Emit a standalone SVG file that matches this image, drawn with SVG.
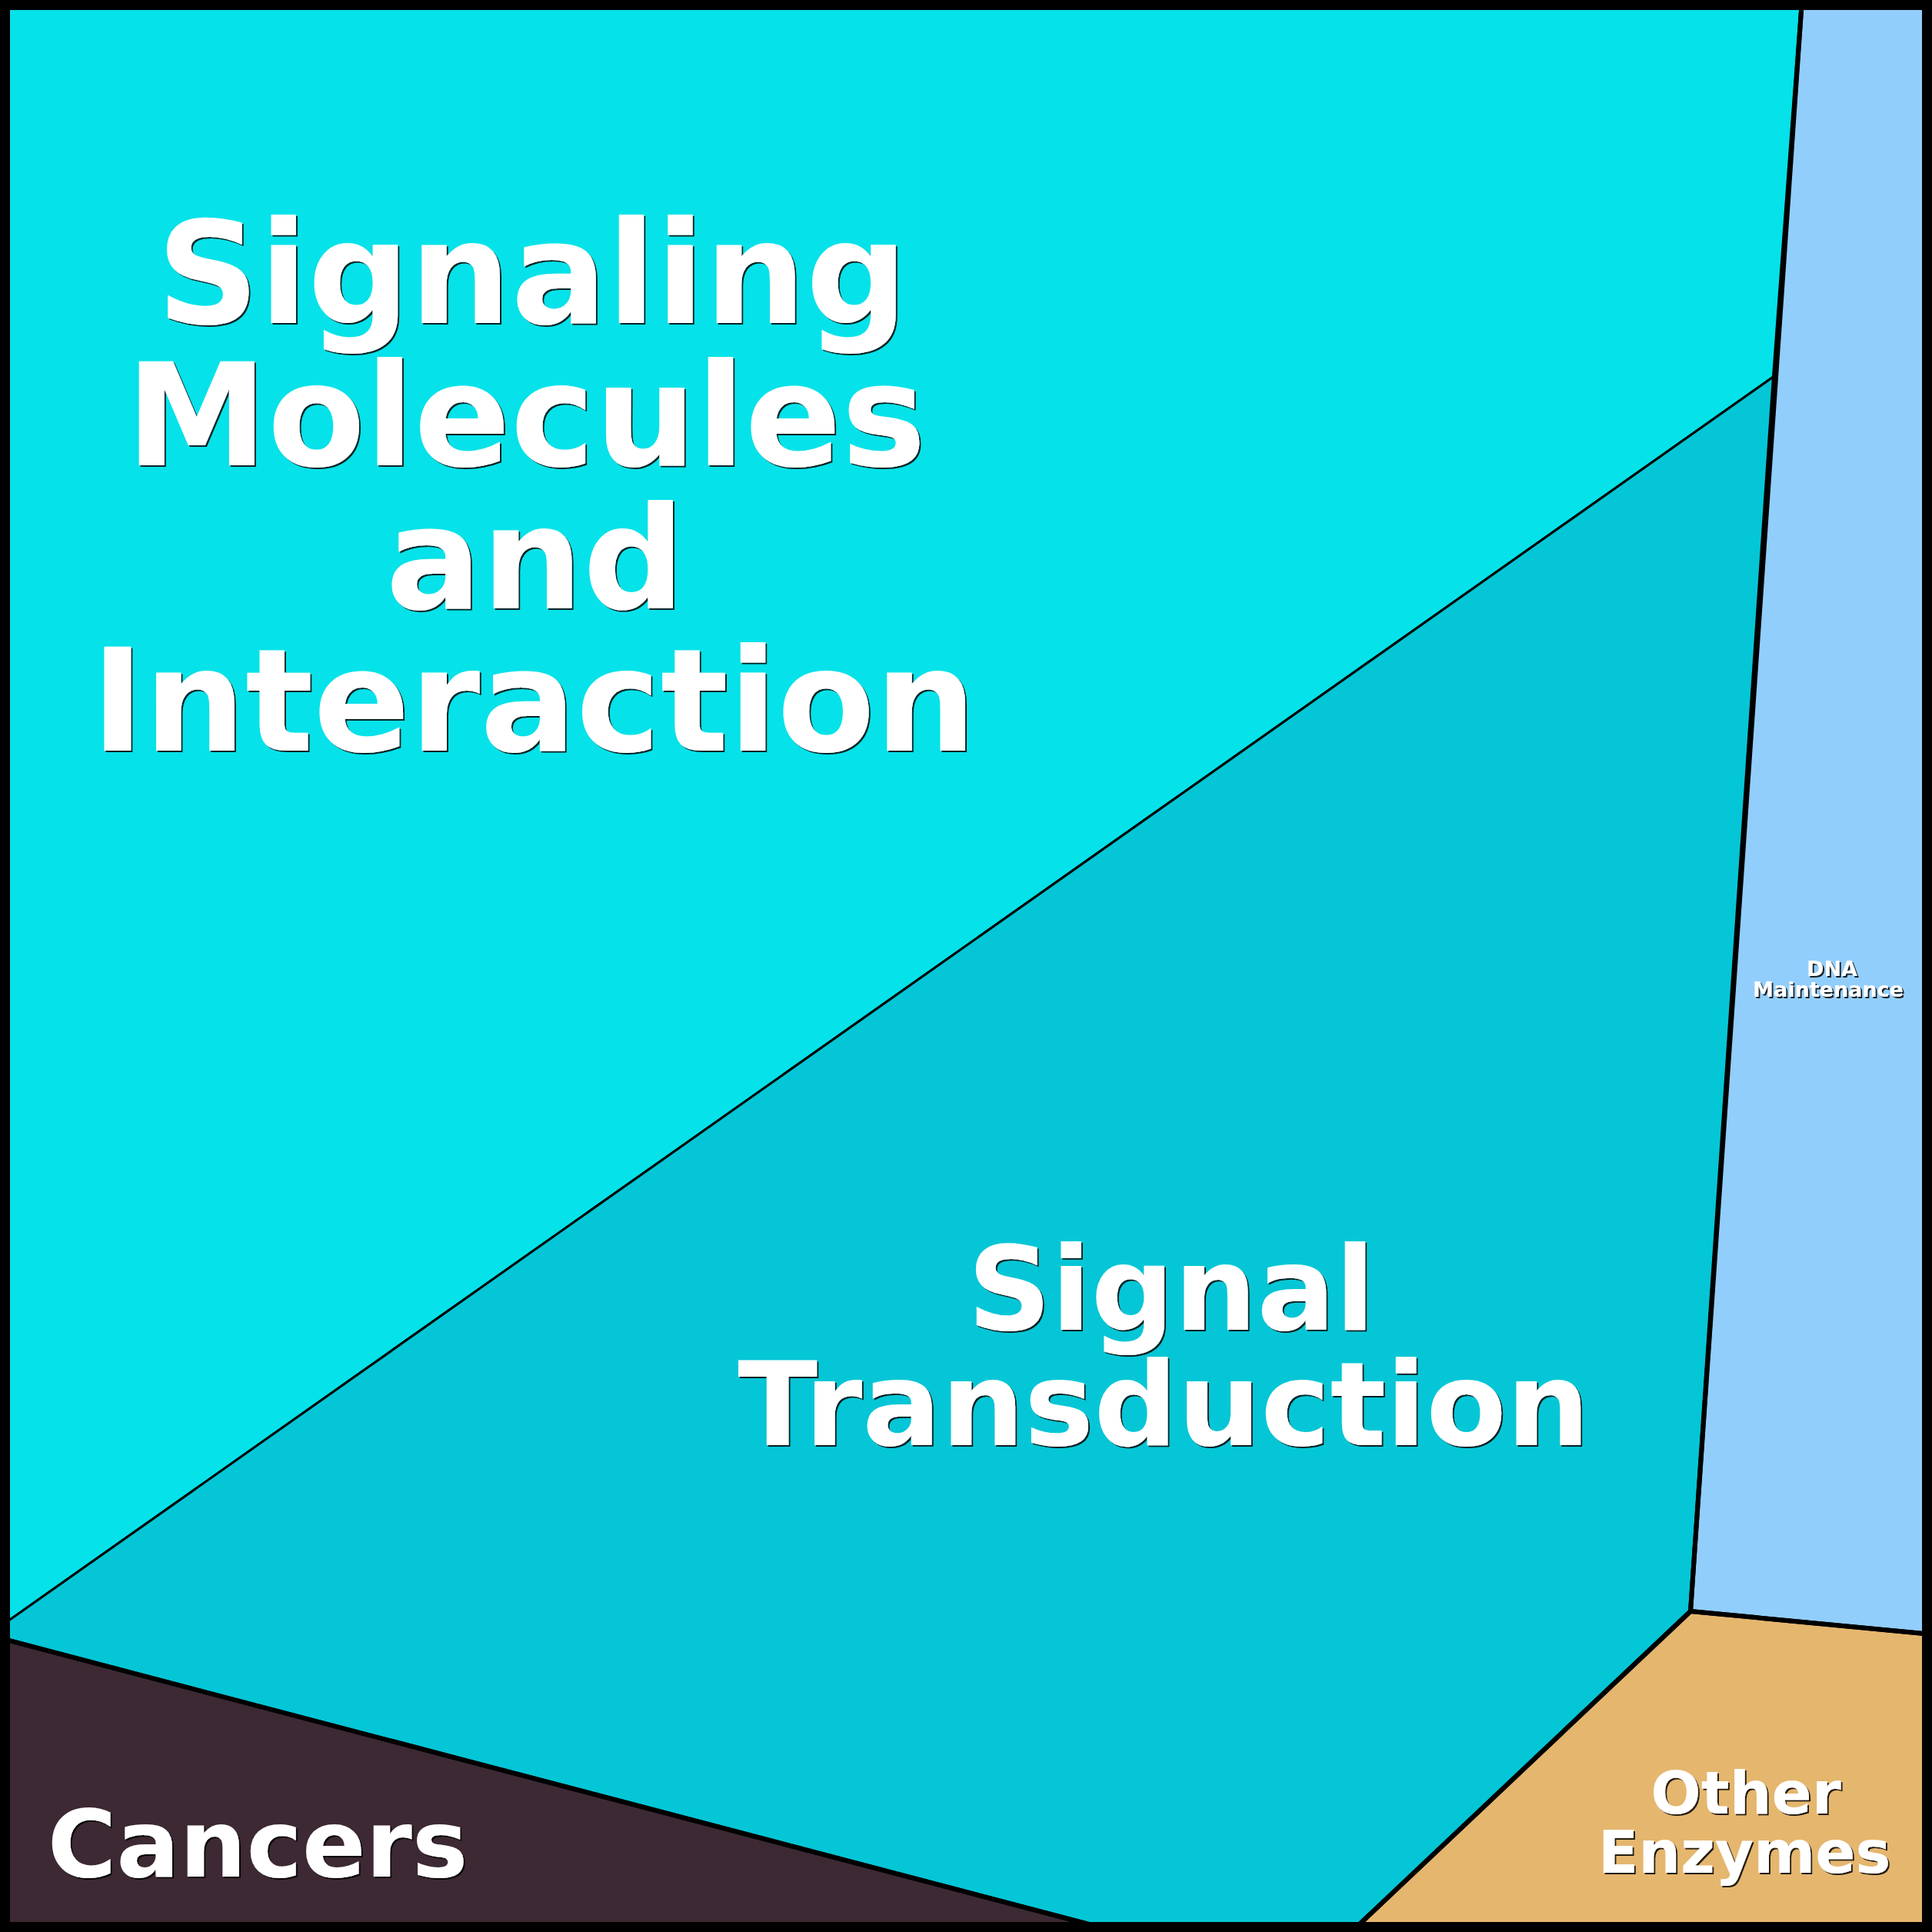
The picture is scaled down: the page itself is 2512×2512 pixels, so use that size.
<svg xmlns="http://www.w3.org/2000/svg" width="2512" height="2512" viewBox="0 0 2512 2512">
  <defs>
    <filter id="shadow" x="-5%" y="-5%" width="110%" height="110%">
      <feDropShadow dx="2" dy="2" stdDeviation="0.6" flood-color="#000000" flood-opacity="0.85"/>
    </filter>
  </defs>
  <style>
    .cell { stroke: #000000; stroke-width: 3; stroke-linejoin: round; }
    .outline { fill: none; stroke: #000000; stroke-width: 6; stroke-linejoin: round; }
    .label { font-family: "DejaVu Sans", "Liberation Sans", sans-serif; font-weight: bold; fill: #ffffff; text-anchor: middle; filter: url(#shadow); }
  </style>

  <g id="signaling-molecules">
    <polygon class="cell" fill="#05E2E9" points="0,0 2343,0 2307,489 0,2115"/>
  </g>
  <g id="signal-transduction">
    <polygon class="cell" fill="#05C6D6" points="2307,489 2198,2095 1757,2512 1454,2512 0,2130 0,2115"/>
  </g>
  <g id="cancers">
    <polygon class="cell" fill="#3C2933" points="0,2130 1454,2512 0,2512"/>
  </g>
  <g id="dna-maintenance">
    <polygon class="cell" fill="#92CEFC" points="2343,0 2512,0 2512,2125 2198,2095"/>
  </g>
  <g id="other-enzymes">
    <polygon class="cell" fill="#E5B66E" points="2198,2095 2512,2125 2512,2512 1757,2512"/>
  </g>

  <g id="connectors">
    <polygon class="outline" points="0,0 2343,0 2307,489 2198,2095 1757,2512 1454,2512 0,2130"/>
    <polygon class="outline" points="0,2130 1454,2512 0,2512"/>
    <polygon class="outline" points="2343,0 2512,0 2512,2125 2198,2095"/>
    <polygon class="outline" points="2198,2095 2512,2125 2512,2512 1757,2512"/>
    <rect x="6.5" y="6.5" width="2499" height="2499" fill="none" stroke="#000000" stroke-width="13"/>
  </g>

  <g id="labels">
    <text class="label" font-size="185" x="692" y="420">Signaling</text>
    <text class="label" font-size="185" x="684" y="605">Molecules</text>
    <text class="label" font-size="185" x="696" y="791">and</text>
    <text class="label" font-size="185" x="694" y="976">Interaction</text>
    <text class="label" font-size="151" x="1523" y="1729">Signal</text>
    <text class="label" font-size="152" x="1513" y="1879">Transduction</text>
    <text class="label" font-size="122" x="335" y="2440">Cancers</text>
    <text class="label" font-size="77" x="2270" y="2358">Other</text>
    <text class="label" font-size="77" x="2268" y="2435">Enzymes</text>
    <text class="label" font-size="27" x="2382" y="1269">DNA</text>
    <text class="label" font-size="27" x="2377" y="1296">Maintenance</text>
  </g>
</svg>
